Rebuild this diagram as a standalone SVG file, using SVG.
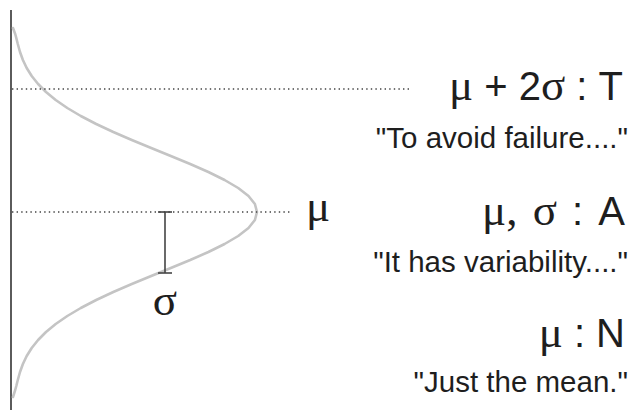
<svg xmlns="http://www.w3.org/2000/svg" width="630" height="418" viewBox="0 0 630 418">
<style>
.sans{font-family:"Liberation Sans",Arial,sans-serif;fill:#1e1e1e}
.serif{font-family:"Liberation Serif","Times New Roman",serif;fill:#1e1e1e}
.big{font-size:40px}
.gk{font-size:45px}
.quote{font-size:29.5px}
.dot{stroke:#444;stroke-width:1.4;stroke-dasharray:1.4 3.2;fill:none}
</style>
<rect width="630" height="418" fill="#fff"/>
<g id="axis"><line x1="11" y1="10" x2="11" y2="410" stroke="#333" stroke-width="1.6"/></g>
<g id="curve"><polyline fill="none" stroke="#c4c4c4" stroke-width="2.6" stroke-linejoin="round" stroke-linecap="round" points="13,28 15.2,34 16.3,38 17.8,44 20,52 22.9,60 26.7,68 31.7,76 38.1,84 46,92 55.7,100 67.3,108 80.8,116 96.2,124 113.3,132 131.8,140 151.2,148 170.8,156 190.2,164 208.4,172 224.6,180 238.2,188 248.5,196 254.9,204 257,212 254.9,220 248.5,228 238.2,236 224.6,244 208.4,252 190.2,260 170.8,268 151.2,276 131.8,284 113.3,292 96.2,300 80.8,308 67.3,316 55.7,324 46,332 38.1,340 31.7,348 26.7,356 22.9,364 20,372 17.8,380 16.3,386 15.2,390 13,397"/></g>
<g id="connectors">
<line class="dot" x1="12" y1="89" x2="410" y2="89"/>
<line class="dot" x1="12" y1="212" x2="290" y2="212"/>
<g id="sigma-bar" stroke="#444" stroke-width="1.6">
<line x1="165" y1="212" x2="165" y2="273"/>
<line x1="158" y1="212" x2="172" y2="212"/>
<line x1="158" y1="273" x2="172" y2="273"/>
</g>
</g>
<g id="mu-label"><text class="serif gk" x="318" y="221" text-anchor="middle">μ</text></g>
<g id="sigma-label"><text class="serif gk" x="165" y="315" text-anchor="middle">σ</text></g>
<g id="T">
<text class="sans big" x="623" y="100" text-anchor="end"><tspan class="serif gk">μ</tspan> + 2<tspan class="serif gk">σ</tspan> : T</text>
<text class="sans quote" x="628" y="148" text-anchor="end">"To avoid failure...."</text>
</g>
<g id="A">
<text class="sans big" x="625" y="225" text-anchor="end" word-spacing="4"><tspan class="serif gk">μ, σ</tspan> : A</text>
<text class="sans quote" x="628" y="272" text-anchor="end">"It has variability...."</text>
</g>
<g id="N">
<text class="sans big" x="625" y="347" text-anchor="end"><tspan class="serif gk">μ</tspan> : N</text>
<text class="sans quote" x="628" y="392" text-anchor="end">"Just the mean."</text>
</g>
</svg>
